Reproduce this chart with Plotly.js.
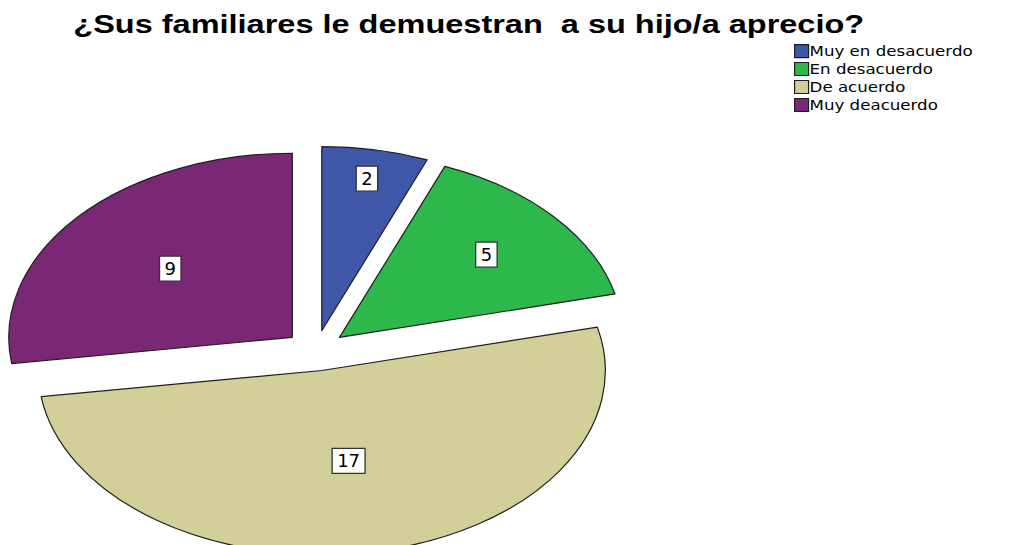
<!DOCTYPE html>
<html>
<head>
<meta charset="utf-8">
<script src="https://cdn.plot.ly/plotly-3.0.1.min.js"></script>
<style>
html,body{margin:0;padding:0;background:#fff;}
#chart{width:1019px;height:545px;}
</style>
</head>
<body>
<div id="chart"></div>
<script>
// ---- data ----
const categories = ["Muy en desacuerdo", "En desacuerdo", "De acuerdo", "Muy deacuerdo"];
const counts = [2, 5, 17, 9];
const sliceColors = ["#3F57A9", "#2DB84B", "#D3CF98", "#7A2776"];
const pulls = [0.11, 0.11, 0.11, 0.11];
const chartTitle = "¿Sus familiares le demuestran\u00A0 a su hijo/a aprecio?";

const gd = document.getElementById('chart');

const data = [{
  type: 'pie',
  labels: categories,
  values: counts,
  sort: false,
  direction: 'clockwise',
  rotation: 0,
  pull: pulls,
  marker: {colors: sliceColors, line: {color: '#1e1e1e', width: 1.2}},
  textinfo: 'value',
  textposition: 'inside',
  insidetextorientation: 'horizontal',
  textfont: {family: 'DejaVu Sans', size: 18, color: '#000000'},
  domain: {x: [0, 0.62], y: [0, 0.75]},
  hoverinfo: 'none'
}];

const layout = {
  width: 1019,
  height: 545,
  margin: {l: 0, r: 0, t: 0, b: 0},
  paper_bgcolor: '#ffffff',
  plot_bgcolor: '#ffffff',
  title: {
    text: '<b>' + chartTitle + '</b>',
    font: {family: 'Liberation Sans, Arial, sans-serif', size: 25, color: '#000000'},
    x: 0.46, xanchor: 'center', xref: 'paper',
    y: 0.955, yanchor: 'middle', yref: 'container'
  },
  showlegend: true,
  legend: {
    x: 0.767, y: 0.935, xanchor: 'left', yanchor: 'top',
    font: {family: 'DejaVu Sans', size: 14, color: '#000000'},
    bgcolor: 'rgba(255,255,255,0)',
    itemwidth: 30,
    traceorder: 'normal'
  }
};

Plotly.newPlot(gd, data, layout, {staticPlot: true, displayModeBar: false}).then(function () {
  const fl = gd._fullLayout;
  const sz = fl._size;
  const dom = gd._fullData[0].domain;
  const cd0 = gd.calcdata && gd.calcdata[0] && gd.calcdata[0][0];
  const cx = (cd0 && cd0.cx !== undefined) ? cd0.cx : sz.l + sz.w * (dom.x[0] + dom.x[1]) / 2;
  const cy = (cd0 && cd0.cy !== undefined) ? cd0.cy : sz.t + sz.h * (1 - (dom.y[0] + dom.y[1]) / 2);
  const sx = 1.54, dy = 10;

  // horizontally stretched pie (ellipse) as in the reference
  const g = gd.querySelector('.pielayer .trace');
  if (g) {
    g.setAttribute('transform',
      'translate(' + cx + ',' + (cy + dy) + ') scale(' + sx + ',1) translate(' + (-cx) + ',' + (-cy) + ')');
    g.querySelectorAll('path.surface').forEach(function (p) {
      p.setAttribute('vector-effect', 'non-scaling-stroke');
    });
    g.querySelectorAll('g.slicetext text').forEach(function (t) {
      let tr = (t.getAttribute('transform') || '').replace(/scale\([^)]*\)/g, ' ');
      const i = tr.indexOf(')');
      if (i >= 0) {
        tr = tr.slice(0, i + 1) + ' scale(' + (1 / sx) + ',1) ' + tr.slice(i + 1);
      } else {
        tr = 'scale(' + (1 / sx) + ',1)';
      }
      t.setAttribute('transform', tr);
      const bb = t.getBBox();
      const padX = 5, padY = 2;
      const r = document.createElementNS('http://www.w3.org/2000/svg', 'rect');
      r.setAttribute('x', bb.x - padX);
      r.setAttribute('y', bb.y - padY);
      r.setAttribute('width', bb.width + 2 * padX);
      r.setAttribute('height', bb.height + 2 * padY);
      r.setAttribute('fill', '#ffffff');
      r.setAttribute('stroke', '#333333');
      r.setAttribute('stroke-width', '1.3');
      r.setAttribute('transform', tr);
      t.parentNode.insertBefore(r, t);
    });
  }

  // widen title text like the reference
  const tt = gd.querySelector('.g-gtitle text');
  if (tt) {
    const tx = parseFloat(tt.getAttribute('x')) || 0;
    tt.setAttribute('transform', 'translate(' + tx + ',0) scale(1.3,1) translate(' + (-tx) + ',0)');
  }

  // compact legend rows, text close to swatch, slightly widened text
  gd.querySelectorAll('.legend [clip-path]').forEach(function (el) {
    el.removeAttribute('clip-path');
  });
  const items = gd.querySelectorAll('.legend g.traces');
  let y0 = null;
  items.forEach(function (it, k) {
    const m = /translate\(\s*([-\d.]+)[ ,]+([-\d.]+)\s*\)/.exec(it.getAttribute('transform') || '');
    if (!m) return;
    if (y0 === null) y0 = parseFloat(m[2]);
    it.setAttribute('transform', 'translate(' + m[1] + ',' + (y0 + k * 18) + ')');
    const lt = it.querySelector('text.legendtext');
    if (lt) {
      const nx = 28;
      lt.setAttribute('x', nx);
      lt.setAttribute('transform', 'translate(' + nx + ',0) scale(1.19,1) translate(' + (-nx) + ',0)');
    }
    const sym = it.querySelector('.legendpoints path');
    if (sym) sym.setAttribute('d', 'M7,6.5H-7V-6.5H7Z');
  });
});
</script>
</body>
</html>
